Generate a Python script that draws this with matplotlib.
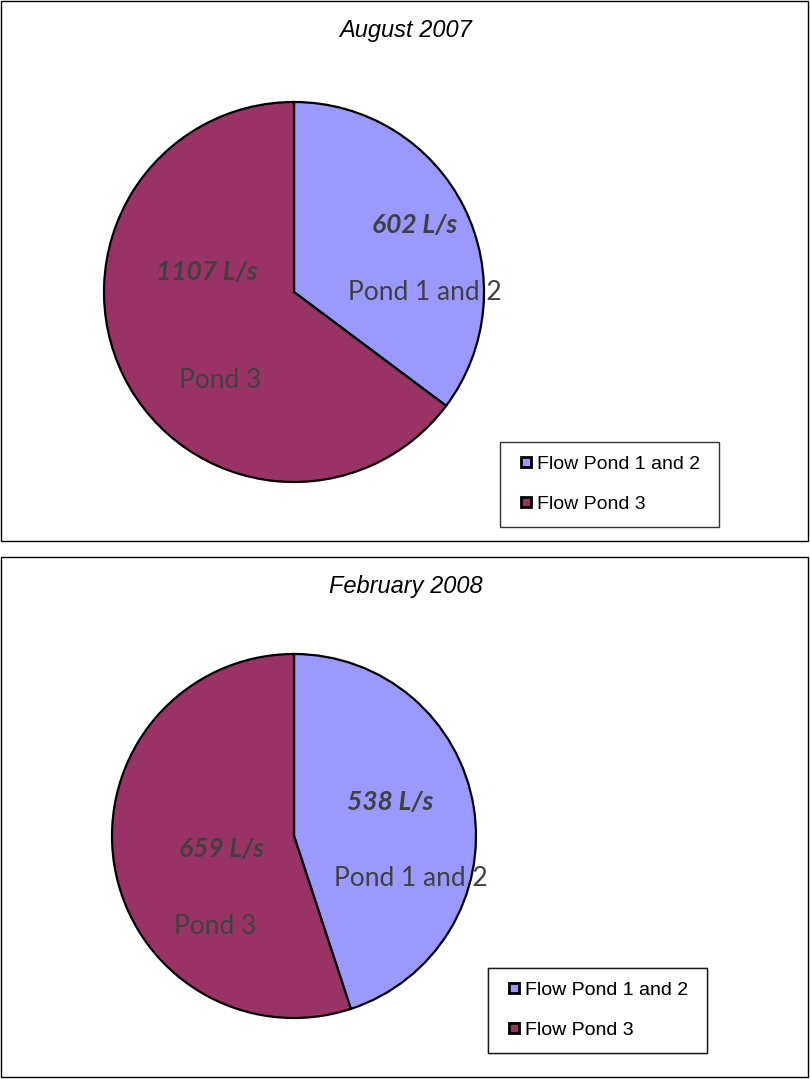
import matplotlib
matplotlib.use("Agg")
import matplotlib.pyplot as plt
from matplotlib.patches import Rectangle
from matplotlib.legend_handler import HandlerPatch

titles = ["August 2007", "February 2008"]
categories = ["Flow Pond 1 and 2", "Flow Pond 3"]
slice_names = ["Pond 1 and 2", "Pond 3"]
flows_aug2007 = [602, 1107]
flows_feb2008 = [538, 659]
colors = ["#9999FF", "#993366"]

W, H = 810, 1079
fig = plt.figure(figsize=(W / 100, H / 100), dpi=100)
ax = fig.add_axes([0, 0, 1, 1])


def Y(y):
    return H - y


def square_patch(legend, orig_handle, xdescent, ydescent, width, height, fontsize):
    s = 9.5 * 72 / 100  # square size in points
    return Rectangle((width - s - xdescent, -ydescent + (height - s) / 2), s, s)


handler = HandlerPatch(patch_func=square_patch)

panels = [
    dict(title=titles[0], values=flows_aug2007, box=(1, 1, 808, 541), center=(294, 292), r=190,
         title_y=30, leg=(500, 442),
         val_pos=[(415, 225), (207, 272)], name_pos=[(425, 292), (220, 380)]),
    dict(title=titles[1], values=flows_feb2008, box=(1, 557, 808, 1077), center=(294, 836), r=182,
         title_y=586, leg=(488, 968),
         val_pos=[(390, 802), (222, 849)], name_pos=[(411, 879), (215, 927)]),
]

for p in panels:
    x0, y0, x1, y1 = p["box"]
    ax.add_patch(Rectangle((x0, Y(y1)), x1 - x0, y1 - y0, fill=False, edgecolor="black", lw=1.0))
    wedges, _ = ax.pie(p["values"], colors=colors, startangle=90, counterclock=False,
                       center=(p["center"][0], Y(p["center"][1])), radius=p["r"],
                       wedgeprops=dict(edgecolor="black", linewidth=1.6), frame=True)
    ax.text(406, Y(p["title_y"]), p["title"], ha="center", va="center", fontsize=17,
            style="italic", family="Liberation Sans", color="black")
    for v, (tx, ty) in zip(p["values"], p["val_pos"]):
        ax.text(tx, Y(ty), f"{v} L/s", ha="center", va="center", fontsize=19,
                family="Lato", weight="bold", style="italic", color="#404040")
    for nm, (tx, ty) in zip(slice_names, p["name_pos"]):
        ax.text(tx, Y(ty), nm, ha="center", va="center", fontsize=19,
                family="Lato", color="#404040")
    lx, ly = p["leg"]
    leg = ax.legend(wedges, categories, loc="upper left",
                    bbox_to_anchor=(lx / W, 1 - (ly + 82) / H, 219 / W, 82 / H),
                    bbox_transform=fig.transFigure, mode="expand",
                    borderaxespad=0, frameon=True, fancybox=False, edgecolor="black",
                    prop=dict(family="Liberation Sans", size=14),
                    handlelength=0.85, handleheight=0.5, handletextpad=0.35,
                    labelspacing=1.19, borderpad=0.72,
                    handler_map={type(wedges[0]): handler})
    leg.get_frame().set_linewidth(1.0)
    for h in leg.legend_handles:
        h.set_linewidth(2.0)
        h.set_edgecolor("black")
    ax.add_artist(leg)

ax.set_xlim(0, W)
ax.set_ylim(0, H)
ax.set_aspect("equal")
ax.axis("off")
fig.savefig("out.png", dpi=100)
